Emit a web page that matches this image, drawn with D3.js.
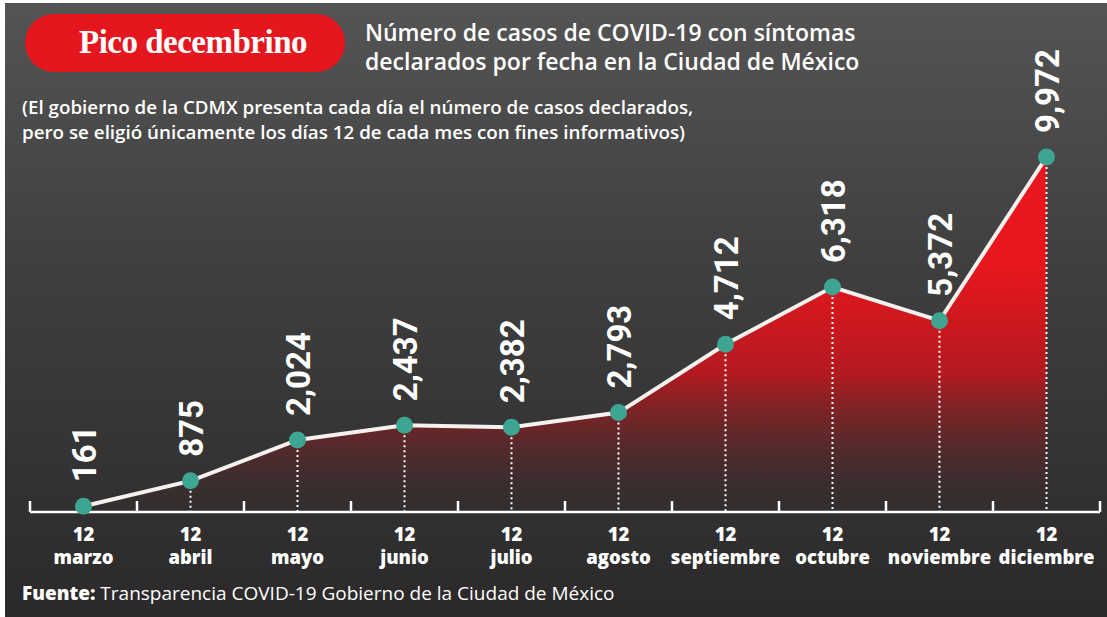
<!DOCTYPE html>
<html>
<head>
<meta charset="utf-8">
<script src="https://cdn.jsdelivr.net/npm/d3@7"></script>
<style>
  html, body { margin: 0; padding: 0; background: #fff; }
  svg { display: block; }
</style>
</head>
<body>
<svg id="chart" width="1107" height="617"></svg>
<script>
// chart values, read from the printed graphic
var months = ['marzo', 'abril', 'mayo', 'junio', 'julio', 'agosto',
  'septiembre', 'octubre', 'noviembre', 'diciembre'];
var days = ['12', '12', '12', '12', '12', '12', '12', '12', '12', '12'];
var cases = [161, 875, 2024, 2437, 2382, 2793, 4712, 6318, 5372, 9972];

var svg = d3.select('#chart');
var width = +svg.attr('width');
var height = +svg.attr('height');

var data = months.map(function (m, i) {
  return { month: m, day: days[i], value: cases[i] };
});

var defs = svg.append('defs');

// dark chalkboard-like background
var bgGrad = defs.append('linearGradient')
  .attr('id', 'bg').attr('x1', 0).attr('y1', 0).attr('x2', 0).attr('y2', 1);
bgGrad.append('stop').attr('offset', '0%').attr('stop-color', '#545454');
bgGrad.append('stop').attr('offset', '45%').attr('stop-color', '#3f3e3e');
bgGrad.append('stop').attr('offset', '100%').attr('stop-color', '#2b2929');

// red area fading out towards the baseline
var areaGrad = defs.append('linearGradient')
  .attr('id', 'areaFill').attr('gradientUnits', 'userSpaceOnUse')
  .attr('x1', 0).attr('y1', 260).attr('x2', 0).attr('y2', 512);
areaGrad.append('stop').attr('offset', '0%').attr('stop-color', '#ea161d').attr('stop-opacity', 1);
areaGrad.append('stop').attr('offset', '45%').attr('stop-color', '#c8151b').attr('stop-opacity', 0.85);
areaGrad.append('stop').attr('offset', '100%').attr('stop-color', '#3a2424').attr('stop-opacity', 0.1);

svg.append('rect')
  .attr('x', 5).attr('y', 3)
  .attr('width', width - 5).attr('height', height - 3)
  .attr('fill', 'url(#bg)');

// scales
var x = d3.scaleBand()
  .domain(months)
  .range([30, 1100]);

var y = d3.scaleLinear()
  .domain([0, 10000])
  .range([512, 156]);

var cx = function (d) { return x(d.month) + x.bandwidth() / 2; };

// area + line
var area = d3.area()
  .x(cx)
  .y0(y(0))
  .y1(function (d) { return y(d.value); });

var line = d3.line()
  .x(cx)
  .y(function (d) { return y(d.value); });

var g = svg.append('g');

g.append('path')
  .datum(data)
  .attr('d', area)
  .attr('fill', 'url(#areaFill)');

// dotted drop lines
g.selectAll('.drop')
  .data(data)
  .enter()
  .append('line')
  .attr('class', 'drop')
  .attr('x1', cx).attr('x2', cx)
  .attr('y1', function (d) { return y(d.value); })
  .attr('y2', y(0))
  .attr('stroke', '#fff')
  .attr('stroke-width', 2)
  .attr('stroke-dasharray', '2,3');

g.append('path')
  .datum(data)
  .attr('d', line)
  .attr('fill', 'none')
  .attr('stroke', '#f4f1ee')
  .attr('stroke-width', 4);

// axis baseline with ticks at the band edges
var edges = months.map(function (m) { return x(m); }).concat([x.range()[1]]);
g.append('line')
  .attr('x1', x.range()[0]).attr('x2', x.range()[1])
  .attr('y1', y(0)).attr('y2', y(0))
  .attr('stroke', '#fff').attr('stroke-width', 2.5);
g.selectAll('.tick')
  .data(edges)
  .enter()
  .append('line')
  .attr('class', 'tick')
  .attr('x1', function (d) { return d; }).attr('x2', function (d) { return d; })
  .attr('y1', y(0) - 11).attr('y2', y(0))
  .attr('stroke', '#fff').attr('stroke-width', 2.5);

// points
g.selectAll('.point')
  .data(data)
  .enter()
  .append('circle')
  .attr('class', 'point')
  .attr('cx', cx)
  .attr('cy', function (d) { return y(d.value); })
  .attr('r', 8.5)
  .attr('fill', '#3fa593');

// rotated value labels
var fmt = d3.format(',');
g.selectAll('.val')
  .data(data)
  .enter()
  .append('text')
  .attr('class', 'val')
  .attr('transform', function (d) {
    return 'translate(' + (cx(d) + 12) + ',' + (y(d.value) - 24) + ') rotate(-90)';
  })
  .attr('fill', '#fff')
  .attr('font-family', 'Roboto, sans-serif')
  .attr('font-weight', 700)
  .attr('font-size', 33)
  .text(function (d) { return fmt(d.value); });

// x labels: day on one row, month below
function xLabels(cls, yPos, fn) {
  g.selectAll('.' + cls)
    .data(data)
    .enter()
    .append('text')
    .attr('class', cls)
    .attr('x', cx)
    .attr('y', yPos)
    .attr('text-anchor', 'middle')
    .attr('fill', '#fff')
    .attr('font-family', '"Open Sans", sans-serif')
    .attr('font-weight', 800)
    .attr('font-size', 18.5)
    .text(fn);
}
xLabels('xday', 541, function (d) { return d.day; });
xLabels('xmonth', 564, function (d) { return d.month; });

// header pill
svg.append('rect')
  .attr('x', 25).attr('y', 14)
  .attr('width', 320).attr('height', 58)
  .attr('rx', 29)
  .attr('fill', '#e5161d');
svg.append('text')
  .attr('x', 193).attr('y', 53)
  .attr('text-anchor', 'middle')
  .attr('fill', '#fff')
  .attr('font-family', '"Liberation Serif", serif')
  .attr('font-weight', 700)
  .attr('font-size', 33)
  .attr('letter-spacing', -0.5)
  .text('Pico decembrino');

// title
var title = svg.append('text')
  .attr('fill', '#fff')
  .attr('font-family', '"Open Sans", sans-serif')
  .attr('font-weight', 600)
  .attr('font-size', 23);
title.append('tspan').attr('x', 365).attr('y', 41).text('Número de casos de COVID-19 con síntomas');
title.append('tspan').attr('x', 365).attr('y', 70).text('declarados por fecha en la Ciudad de México');

// note
var note = svg.append('text')
  .attr('fill', '#fff')
  .attr('font-family', '"Open Sans", sans-serif')
  .attr('font-weight', 600)
  .attr('font-size', 18.8);
note.append('tspan').attr('x', 22).attr('y', 114).text('(El gobierno de la CDMX presenta cada día el número de casos declarados,');
note.append('tspan').attr('x', 22).attr('y', 139).text('pero se eligió únicamente los días 12 de cada mes con fines informativos)');

// source
var src = svg.append('text')
  .attr('x', 22).attr('y', 600)
  .attr('fill', '#fff')
  .attr('font-family', '"Open Sans", sans-serif')
  .attr('font-size', 19);
src.append('tspan').attr('font-weight', 800).text('Fuente:');
src.append('tspan').text(' Transparencia COVID-19 Gobierno de la Ciudad de México');
</script>
</body>
</html>
